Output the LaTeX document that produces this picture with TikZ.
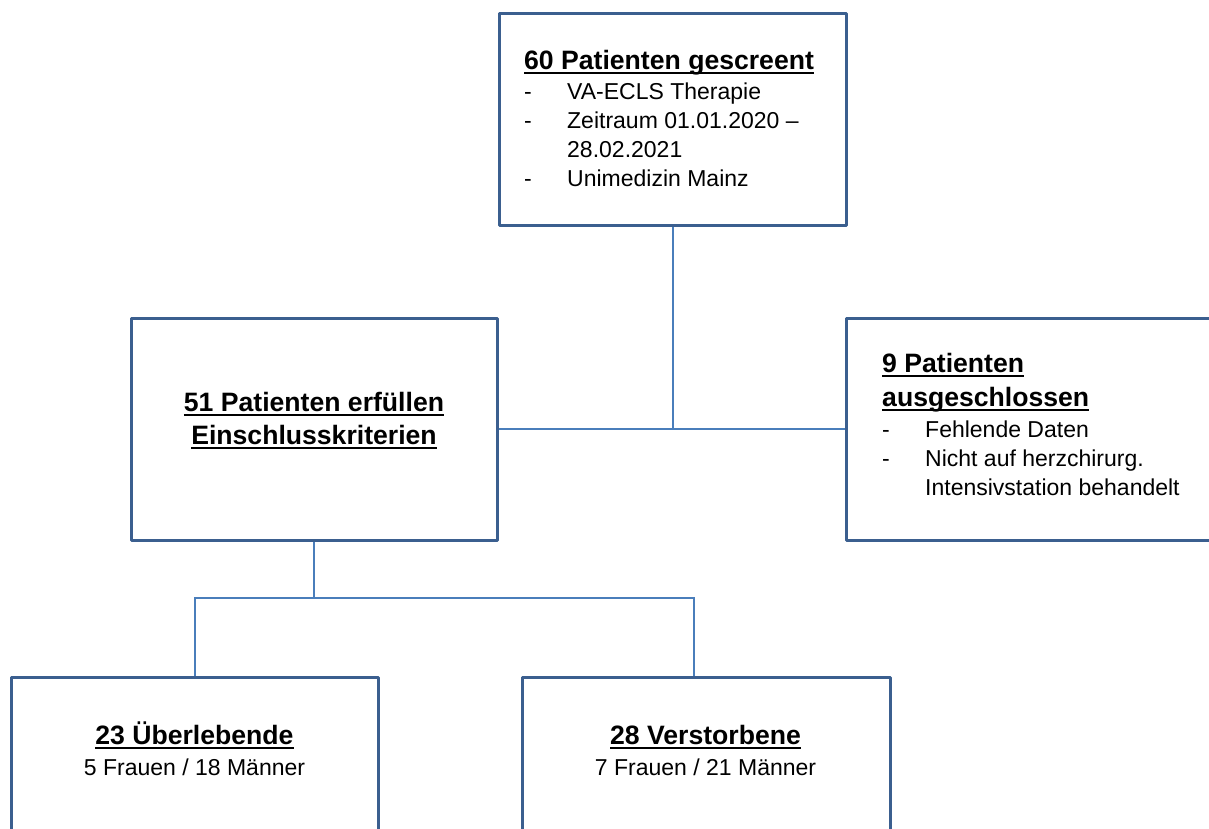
\documentclass[tikz,border=0pt]{standalone}
\usepackage{fontspec}
\setmainfont{Liberation Sans}
\usetikzlibrary{backgrounds}

\definecolor{boxblue}{HTML}{3B5F8F}
\definecolor{lineblue}{HTML}{4A7EBB}

\newcommand{\ulbox}[1]{\setbox0\hbox{#1}\rlap{\rule[-4.5pt]{\wd0}{2pt}}\box0}
\newcommand{\dashitem}{\makebox[43pt][l]{-}}
\newcommand{\headfont}{\fontsize{26.6}{33}\selectfont\bfseries}
\newcommand{\bodyfont}{\fontsize{23}{29}\selectfont}

\begin{document}
\begin{tikzpicture}[x=1pt,y=-1pt,
    box/.style={draw=boxblue,line width=3pt,line join=round,fill=white,
      inner sep=0pt},
    txt/.style={inner sep=0pt,font=\bodyfont},
    link/.style={draw=lineblue,line width=2pt}]
    \useasboundingbox (0,0) rectangle (1209,828);
    \clip (0,0) rectangle (1209,828);

    % boxes
    \node [box,minimum width=347,minimum height=212] (screen) at (672.5,119) {};
    \node [box,minimum width=366,minimum height=222] (crit) at (314,429) {};
    \node [box,minimum width=366,minimum height=222] (excl) at (1029,429) {};
    \node [box,minimum width=367,minimum height=222] (surv) at (194.5,788) {};
    \node [box,minimum width=368,minimum height=222] (dead) at (706,788) {};

    % texts
    \node [txt,anchor=west,align=left] (screentxt) at (524,118.5)
      {{\headfont\ulbox{60 Patienten gescreent}}\\[1.5pt]
       \dashitem VA-ECLS Therapie\\
       \dashitem Zeitraum 01.01.2020 –\\
       \hspace*{43pt}28.02.2021\\
       \dashitem Unimedizin Mainz};
    \node [txt,font=\headfont,align=center] (crittxt) at (314,420.5)
      {\ulbox{51 Patienten erfüllen}\\\ulbox{Einschlusskriterien}};
    \node [txt,anchor=west,align=left] (excltxt) at (882,424.5)
      {{\headfont\ulbox{9 Patienten}}\\[5pt]
       {\headfont\ulbox{ausgeschlossen}}\\[1.5pt]
       \dashitem Fehlende Daten\\
       \dashitem Nicht auf herzchirurg.\\
       \hspace*{43pt}Intensivstation behandelt};
    \node [txt,align=center] (survtxt) at (194.5,749)
      {{\headfont\ulbox{23 Überlebende}}\\[2pt]5 Frauen / 18 Männer};
    \node [txt,align=center] (deadtxt) at (705.5,750.5)
      {{\headfont\ulbox{28 Verstorbene}}\\[1.5pt]7 Frauen / 21 Männer};

    % connectors
    \coordinate (fork) at (314,598);
    \coordinate (deadin) at (694,677);
    \begin{scope}[on background layer]
      \draw [link] (screen.south) -- (screen.south |- crit.east);
      \draw [link] (crit.east) -- (excl.west);
      \draw [link] (crit.south) -- (fork);
      \draw [link] (fork) -| (surv.north);
      \draw [link] (fork) -| (deadin);
    \end{scope}
\end{tikzpicture}
\end{document}
